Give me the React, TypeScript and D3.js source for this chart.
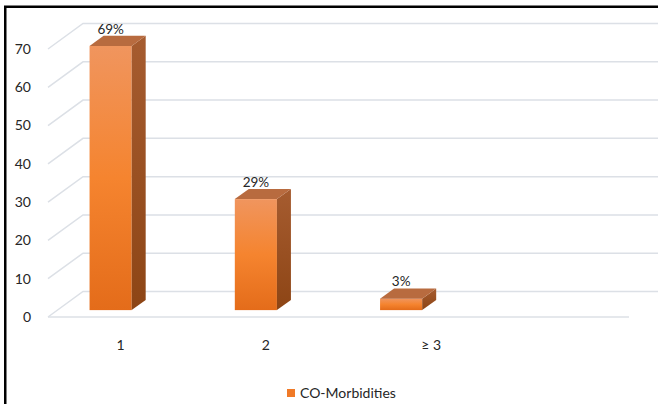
import React from "react";
import * as d3 from "d3";

const categories = ["1", "2", "≥ 3", ""];
const values = [69, 29, 3];
const valueLabels = ["69%", "29%", "3%"];
const yTicks = [0, 10, 20, 30, 40, 50, 60, 70];
const seriesName = "CO-Morbidities";

const W = 658;
const H = 404;
const FONT = "Lato, 'Open Sans', sans-serif";

export default function App() {
  // front plane of the 3D box
  const yFront = d3.scaleLinear().domain([0, 70]).range([317, 49]);
  const xFront = d3.scaleBand<string>().domain(categories).range([48, 629]);
  const xBar = d3.scaleBand<string>().domain(categories).range([38, 619]);
  const depthX = 35;
  const depthY = -25.5;
  const barDepthStart = 0.27;
  const barDepth = 0.4;
  const bw = xBar.bandwidth() * 0.29;

  const grid = yTicks.map((t) => {
    const y0 = yFront(t);
    const x1 = xFront.range()[0] + depthX;
    const y1 = y0 + depthY;
    return `M${xFront.range()[0]},${y0}L${x1},${y1}L${W},${y1}`;
  });

  const labelNudge = [0, 0, 20];

  return (
    <svg
      width={W}
      height={H}
      style={{ position: "fixed", left: 0, top: 0, background: "#fff" }}
    >
      <defs>
        <linearGradient id="front" x1="0" y1="0" x2="0" y2="1">
          <stop offset="0" stopColor="#F0955E" />
          <stop offset="0.5" stopColor="#F5842F" />
          <stop offset="1" stopColor="#E46C1A" />
        </linearGradient>
        <linearGradient id="side" x1="0" y1="0" x2="0" y2="1">
          <stop offset="0" stopColor="#A65C30" />
          <stop offset="1" stopColor="#8D4515" />
        </linearGradient>
      </defs>
      <rect width={W} height={H} fill="#fff" />
      {grid.map((d, i) => (
        <path key={i} d={d} fill="none" stroke="#DCE0E6" strokeWidth={1.5} />
      ))}
      {/* floor front edge */}
      <line
        x1={xFront.range()[0]}
        x2={xFront.range()[1]}
        y1={yFront(0)}
        y2={yFront(0)}
        stroke="#DCE0E6"
        strokeWidth={1.5}
      />
      {values.map((v, i) => {
        const c = categories[i];
        const cx = (xBar(c) as number) + xBar.bandwidth() / 2;
        const x0 = cx - bw / 2;
        const x1 = cx + bw / 2;
        const offY = barDepthStart * depthY;
        const yb = yFront(0) + offY;
        const yt = yFront(v) + offY;
        const dx = barDepth * depthX;
        const dy = barDepth * depthY;
        return (
          <g key={c}>
            <rect x={x0} y={yt} width={bw} height={yb - yt} fill="url(#front)" />
            <path
              d={`M${x1},${yt}L${x1 + dx},${yt + dy}L${x1 + dx},${yb + dy}L${x1},${yb}Z`}
              fill="url(#side)"
            />
            <path
              d={`M${x0},${yt}L${x0 + dx},${yt + dy}L${x1 + dx},${yt + dy}L${x1},${yt}Z`}
              fill="#B86B3F"
            />
            <text
              x={cx}
              y={yt + dy - 2}
              textAnchor="middle"
              fontFamily={FONT}
              fontSize={13.5}
              fill="#262626"
            >
              {valueLabels[i]}
            </text>
          </g>
        );
      })}
      {yTicks.map((t) => (
        <text
          key={t}
          x={31}
          y={yFront(t)}
          dy="0.35em"
          textAnchor="end"
          fontFamily={FONT}
          fontSize={14}
          fill="#262626"
        >
          {t}
        </text>
      ))}
      {categories.slice(0, 3).map((c, i) => (
        <text
          key={c}
          x={(xFront(c) as number) + xFront.bandwidth() / 2 + labelNudge[i]}
          y={350}
          textAnchor="middle"
          fontFamily={FONT}
          fontSize={14}
          fill="#262626"
        >
          {c}
        </text>
      ))}
      <rect x={287} y={389} width={8} height={8} fill="#F07A28" />
      <text x={300} y={397.5} fontFamily={FONT} fontSize={14} fill="#262626">
        {seriesName}
      </text>
      <path d={`M5.25,${H}V6.75H${W}`} fill="none" stroke="#000" strokeWidth={2.5} />
    </svg>
  );
}
